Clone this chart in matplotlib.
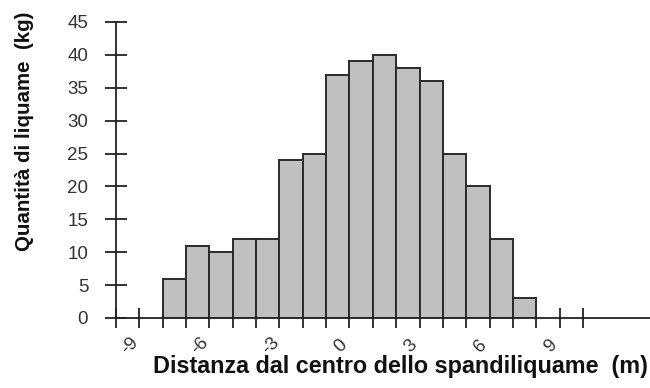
import matplotlib
matplotlib.use("Agg")
import matplotlib.pyplot as plt
from matplotlib.transforms import ScaledTranslation

# Slurry collected per 1 m strip across the spreader width
bin_left = [-8, -7, -6, -5, -4, -3, -2, -1, 0, 1, 2, 3, 4, 5, 6, 7]
quantita_kg = [6, 11, 10, 12, 12, 24, 25, 37, 39, 40, 38, 36, 25, 20, 12, 3]
x_ticks = list(range(-10, 11))
x_labels = ["-9", "-6", "-3", "0", "3", "6", "9"]
y_ticks = list(range(0, 50, 5))

plt.rcParams["font.family"] = ["Liberation Sans", "DejaVu Sans"]

W, H, DPI = 650, 388, 100
fig = plt.figure(figsize=(W / DPI, H / DPI), dpi=DPI)
ax = fig.add_axes([116 / W, 1 - 318 / H, (W - 116) / W, (318 - 22) / H])

ax.bar(bin_left, quantita_kg, width=1.0, align="edge",
       color="#c0c0c0", edgecolor="#2a2a2a", linewidth=1.4, zorder=2)

ax.set_xlim(-10, 12.87)
ax.set_ylim(0, 45)

for side in ("top", "right"):
    ax.spines[side].set_visible(False)
ax.spines["left"].set_bounds(0, 45)
for side in ("left", "bottom"):
    ax.spines[side].set_color("#222222")
    ax.spines[side].set_linewidth(1.3)
    ax.spines[side].set_zorder(3)

ax.set_yticks(y_ticks)
ax.tick_params(axis="y", direction="inout", length=16, width=1.3,
               color="#222222", pad=12, labelsize=13.5, labelcolor="#333333")

ax.set_xticks(x_ticks)
tick_text = []
for t in x_ticks:
    s = str(t)
    tick_text.append(s if s in x_labels else "")
ax.set_xticklabels(tick_text)
ax.tick_params(axis="x", direction="inout", length=14, width=1.3,
               color="#222222", pad=13, labelsize=13.5, labelcolor="#333333")
shift = ScaledTranslation(-9 / DPI, 0, fig.dpi_scale_trans)
for lab in ax.get_xticklabels():
    lab.set_rotation(45)
    lab.set_ha("center")
    lab.set_va("center")
    lab.set_transform(lab.get_transform() + shift)
for tk in ax.xaxis.get_major_ticks():
    tk.tick1line.set_zorder(3)

fig.text(25 / W, 1 - 131 / H, "Quantità di liquame  (kg)", rotation=90,
         ha="center", va="center", fontsize=14.8, fontweight="bold",
         color="#111111")
fig.text(400 / W, 1 - 373 / H, "Distanza dal centro dello spandiliquame  (m)",
         ha="center", va="baseline", fontsize=16.8, fontweight="bold",
         color="#111111")

fig.savefig("out.png", dpi=DPI)
